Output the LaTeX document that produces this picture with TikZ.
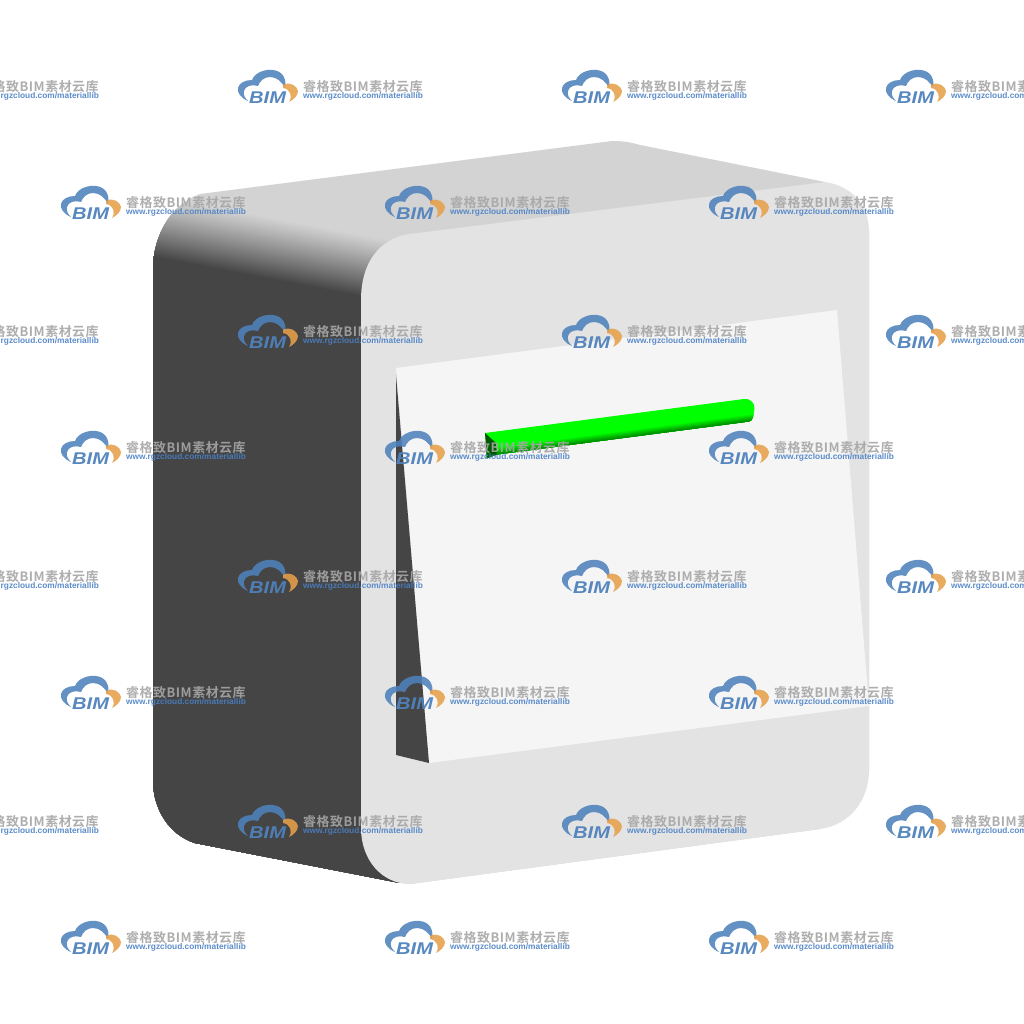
\documentclass[tikz,border=0pt]{standalone}
\usepackage{fontspec}
\setmainfont{Liberation Sans}
\newfontfamily\cjkwm[LetterSpace=4]{Noto Sans CJK SC Bold}
\tikzset{
  wmblue/.style={fill=wmcloud,draw=none,fill opacity=.88},
  wmorange/.style={fill=wmor,draw=none,fill opacity=.88},
  wmgray/.style={text=wmtxt,text opacity=.9,inner sep=0pt,anchor=west},
  wmurl/.style={text=wmlink,text opacity=.9,inner sep=0pt,anchor=west},
}
\definecolor{wmcloud}{HTML}{4F82BC}
\definecolor{wmor}{HTML}{E6A04A}
\definecolor{wmtxt}{HTML}{A6A6A6}
\definecolor{wmlink}{HTML}{4A80C4}
\definecolor{topc}{HTML}{D3D3D3}
\definecolor{darkc}{HTML}{454545}
\definecolor{frontc}{HTML}{E3E3E3}
\definecolor{panelc}{HTML}{F5F5F5}
\newcommand\wmark[2]{%
  \begin{scope}[shift={(#1,#2)}]
    \fill[wmblue] (18,41) .. controls (11,38) and (7,33) .. (8,28)
      .. controls (9,23) and (15,20) .. (22,20)
      .. controls (25,12) and (36,9) .. (43,10)
      .. controls (52,11) and (57,18) .. (55,28)
      .. controls (52,22) and (47,17) .. (40,17)
      .. controls (34,17) and (30,21) .. (28,26)
      .. controls (22,24) and (15,26) .. (14,31)
      .. controls (13,35) and (15,38) .. (18,41) -- cycle;
    \fill[wmorange] (53,25) .. controls (60,21) and (67,26) .. (68,31)
      .. controls (68,36) and (63,40) .. (59,42)
      .. controls (63,36) and (60,29) .. (53,28) -- cycle;
    \node[text=wmcloud,text opacity=.95,inner sep=0pt,anchor=base west] (bim#1x#2) at (19,43.5)
      {\scalebox{1.18}[1]{\fontsize{17}{17}\selectfont\bfseries\itshape BIM}};
    \node[wmgray] (cn#1x#2) at (73,26.5) {\cjkwm\fontsize{12.95}{13}\selectfont 睿格致BIM素材云库};
    \node[wmurl] (url#1x#2) at (73,36) {\fontsize{8.34}{8.4}\selectfont\bfseries www.rgzcloud.com/materiallib};
  \end{scope}}
\begin{document}
\begin{tikzpicture}[x=1pt,y=-1pt]
\useasboundingbox (0,0) rectangle (1024,1024);
\clip (0,0) rectangle (1024,1024);
\fill[white] (0,0) rectangle (1024,1024);
% body silhouette
\begin{scope}
  \clip (153,265) .. controls (155,235) and (170,205) .. (200,194)
     -- (612,141) .. controls (622,141) and (630,142) .. (640,145)
     -- (825,182) -- (869,230) -- (869,770) -- (820,829) -- (410,884) -- (395,882)
     -- (195,843) .. controls (170,835) and (153,810) .. (153,780) -- cycle;
  \fill[topc] (140,130) rectangle (880,900);
  \foreach \t in {0,2,...,62}{
    \pgfmathsetmacro\mixv{100*(1-(\t/62)^1.1)}
    \colorlet{stripc}{topc!\mixv!darkc}
    \fill[stripc] (140,{194+\t-13*0.19}) -- (400,{194+\t+247*0.19}) -- (400,900) -- (140,900) -- cycle;
  }
\end{scope}
% front face
\fill[frontc] (361,300) .. controls (361,262) and (380,238) .. (410,234)
  -- (825,182) .. controls (852,186) and (869,205) .. (869,232)
  -- (869,770) .. controls (869,800) and (850,825) .. (820,829)
  -- (410,884) .. controls (382,884) and (361,860) .. (361,828) -- cycle;
% recess
\fill[panelc] (396,368) -- (837,310) -- (869,706) -- (429,763) -- cycle;
\fill[darkc] (396,375) -- (429,763) -- (396,755) -- cycle;
% green bar
\begin{scope}
  \clip (485,433) -- (744,399) .. controls (750,398) and (755,403) .. (754.5,409)
    -- (753,417) .. controls (752.5,420) and (751,421) .. (749,421.5)
    -- (497,454.5) -- (487,458) -- cycle;
  \fill[green] (480,390) rectangle (760,465);
  \foreach \t in {0,1,...,8}{
    \pgfmathsetmacro\mixv{100-\t*6.5}
    \colorlet{stripc}{green!\mixv!black}
    \fill[stripc] (480,{449+\t*1.0}) -- (760,{412.5+\t*1.0}) -- (760,470) -- (480,470) -- cycle;
  }
  \fill[green!35!black] (485,433) -- (496,443) -- (497,460) -- (485,460) -- cycle;
\end{scope}
% watermarks
\foreach \y in {60,305,550,795}{
  \foreach \x in {-94,230,554,878}{\wmark{\x}{\y}}
}
\foreach \y in {176,421,666,911}{
  \foreach \x in {53,377,701}{\wmark{\x}{\y}}
}
\end{tikzpicture}
\end{document}
